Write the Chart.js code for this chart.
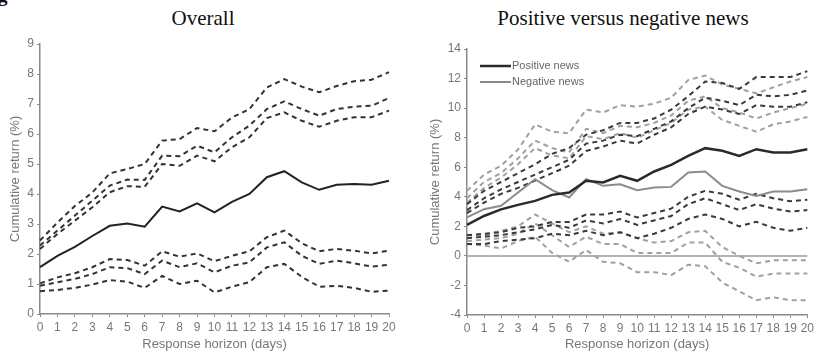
<!DOCTYPE html>
<html>
<head>
<meta charset="utf-8">
<script src="https://cdn.jsdelivr.net/npm/chart.js@4.4.0/dist/chart.umd.min.js"></script>
<style>
  body { margin: 0; background: #fff; width: 817px; height: 352px; position: relative; overflow: hidden; }
  .title { position: absolute; top: 8px; font-family: "Liberation Serif", serif; font-size: 21px; line-height: 21px; color: #111; text-align: center; }
  .box { position: absolute; top: 30px; height: 322px; }
</style>
</head>
<body>
<div class="title" style="left:-2px;top:-15px;text-align:left;font-weight:bold;font-size:19px;">g</div>
<div class="title" style="left:103px;width:200px;">Overall</div>
<div class="title" style="left:473px;width:300px;">Positive versus negative news</div>
<div class="box" style="left:0;width:408px;"><canvas id="overall"></canvas></div>
<div class="box" style="left:408px;width:409px;"><canvas id="posneg"></canvas></div>
<script>
  const days = ['0','1','2','3','4','5','6','7','8','9','10','11','12','13','14','15','16','17','18','19','20'];

  // Overall panel
  const overallMean = [1.56,1.94,2.24,2.6,2.94,3.02,2.91,3.58,3.42,3.69,3.39,3.74,4.0,4.56,4.76,4.39,4.14,4.31,4.33,4.31,4.44];
  const overallUp3 = [2.45,3.05,3.6,4.05,4.69,4.83,5.0,5.78,5.83,6.2,6.09,6.55,6.83,7.55,7.83,7.58,7.39,7.6,7.76,7.81,8.06];
  const overallUp2 = [2.28,2.78,3.28,3.78,4.28,4.48,4.47,5.28,5.26,5.61,5.39,5.89,6.28,6.83,7.09,6.83,6.61,6.83,6.91,6.94,7.2];
  const overallUp1 = [2.17,2.67,3.11,3.56,4.06,4.26,4.24,5.0,4.94,5.28,5.09,5.56,5.89,6.53,6.72,6.44,6.24,6.44,6.56,6.56,6.78];
  const overallLo3 = [1.02,1.22,1.36,1.56,1.83,1.8,1.61,2.09,1.91,2.02,1.76,1.94,2.09,2.56,2.78,2.36,2.09,2.17,2.11,2.02,2.11];
  const overallLo2 = [0.94,1.06,1.17,1.33,1.56,1.53,1.33,1.78,1.56,1.69,1.39,1.61,1.72,2.22,2.39,1.94,1.67,1.78,1.69,1.58,1.64];
  const overallLo1 = [0.76,0.8,0.87,0.98,1.13,1.08,0.87,1.27,1.0,1.11,0.72,0.91,1.06,1.56,1.67,1.24,0.91,0.94,0.87,0.74,0.78];

  // Positive versus negative panel
  const positiveMean = [2.1,2.7,3.15,3.45,3.72,4.13,4.29,5.08,4.97,5.42,5.08,5.71,6.16,6.77,7.29,7.11,6.77,7.22,7.0,7.0,7.22];
  const negativeMean = [2.6,3.16,3.39,4.29,5.19,4.45,3.95,5.19,4.74,4.85,4.45,4.63,4.67,5.64,5.71,4.74,4.36,4.06,4.36,4.36,4.51];
  const posUp3 = [3.5,4.4,5.0,5.6,6.2,6.9,7.3,8.2,8.5,9.0,9.0,9.3,9.9,10.8,11.8,11.7,11.3,12.1,12.1,12.1,12.5];
  const posUp2 = [3.1,3.9,4.5,5.0,5.5,6.0,6.5,7.6,7.8,8.2,8.1,8.6,9.1,10.0,10.7,10.5,10.2,10.9,10.8,10.9,11.2];
  const posUp1 = [2.9,3.6,4.2,4.6,5.1,5.6,6.1,7.1,7.4,7.8,7.6,8.2,8.7,9.6,10.1,9.9,9.6,10.2,10.1,10.1,10.4];
  const posLo3 = [1.4,1.5,1.6,1.9,2.0,2.3,2.3,2.8,2.8,3.0,2.6,2.9,3.2,4.0,4.4,4.2,3.8,4.2,3.9,3.7,3.8];
  const posLo2 = [1.2,1.3,1.4,1.6,1.8,2.1,1.9,2.4,2.2,2.5,2.1,2.4,2.7,3.5,3.9,3.5,3.1,3.5,3.2,3.0,3.1];
  const posLo1 = [0.8,0.8,1.0,1.1,1.2,1.5,1.4,1.7,1.4,1.6,1.2,1.5,1.9,2.5,2.8,2.5,2.0,2.3,1.9,1.7,1.9];
  const negUp3 = [4.4,5.5,6.1,7.2,8.9,8.4,8.3,9.9,9.7,10.2,10.1,10.3,10.7,11.9,12.2,11.6,11.3,11.0,11.4,11.8,12.1];
  const negUp2 = [3.9,5.0,5.6,6.6,7.8,7.3,7.0,8.6,8.3,8.8,8.7,9.0,9.5,10.5,10.8,10.0,9.7,9.3,9.7,10.0,10.3];
  const negUp1 = [3.6,4.6,5.3,6.2,7.3,6.8,6.6,8.1,7.9,8.3,8.0,8.5,9.0,9.9,10.1,9.2,8.8,8.4,8.9,9.1,9.4];
  const negLo3 = [1.4,1.4,1.7,2.0,2.8,2.2,1.6,2.0,1.5,1.6,1.2,0.9,1.0,1.6,1.7,0.6,0.0,-0.5,-0.3,-0.3,-0.3];
  const negLo2 = [1.0,1.1,1.2,1.5,2.2,1.4,0.6,1.3,0.8,0.8,0.2,0.2,0.2,0.9,0.9,-0.4,-0.8,-1.4,-1.2,-1.2,-1.2];
  const negLo1 = [0.8,0.7,0.5,1.0,1.3,0.2,-0.4,0.4,-0.4,-0.5,-1.1,-1.1,-1.3,-0.6,-0.7,-1.8,-2.4,-3.0,-2.8,-3.0,-3.0];

  const overallTicks = { min: 0, max: 9, step: 1 };
  const posnegTicks = { min: -4, max: 14, step: 2 };

  const tickFont = { family: 'Liberation Sans', size: 12 };
  const axisFont = { family: 'Liberation Sans', size: 13 };
  const axisGrey = '#8a8a8a';
  const labelGrey = '#777';

  function solid(label, data, color, width) {
    return { label, data, borderColor: color, borderWidth: width, pointRadius: 0, tension: 0, fill: false };
  }
  function dashed(data, color) {
    return { label: '', data, borderColor: color, borderWidth: 2, borderDash: [5, 4], pointRadius: 0, tension: 0, fill: false };
  }

  function makeScales(range, yWidth, xHeight) {
    return {
      x: {
        border: { color: axisGrey, width: 1.5 },
        grid: { drawOnChartArea: false, color: axisGrey, tickLength: 3 },
        ticks: { color: labelGrey, font: tickFont, autoSkip: false, maxRotation: 0, padding: 3 },
        title: { display: true, text: 'Response horizon (days)', color: labelGrey, font: axisFont, padding: { top: 0, bottom: 0 } },
        afterFit: s => { s.height = xHeight; }
      },
      y: {
        min: range.min, max: range.max,
        border: { color: axisGrey, width: 1.5 },
        grid: { drawOnChartArea: false, color: axisGrey, tickLength: 3 },
        ticks: { stepSize: range.step, color: labelGrey, font: tickFont, padding: 3 },
        title: { display: true, text: 'Cumulative return (%)', color: labelGrey, font: axisFont, padding: { top: 0, bottom: 2 } },
        afterFit: s => { s.width = yWidth; }
      }
    };
  }

  // zero line and in-plot legend for the right panel
  const zeroLine = {
    id: 'zeroLine',
    beforeDatasetsDraw(chart) {
      const y = chart.scales.y.getPixelForValue(0);
      const { left, right } = chart.chartArea;
      const ctx = chart.ctx;
      ctx.save();
      ctx.strokeStyle = '#9a9a9a';
      ctx.lineWidth = 1.5;
      ctx.beginPath();
      ctx.moveTo(left, y);
      ctx.lineTo(right, y);
      ctx.stroke();
      ctx.restore();
    }
  };
  const insideLegend = {
    id: 'insideLegend',
    afterDraw(chart) {
      const ctx = chart.ctx;
      const x0 = chart.chartArea.left + 13;
      const items = [chart.data.datasets[0], chart.data.datasets[1]];
      ctx.save();
      ctx.font = '11px "Liberation Sans"';
      ctx.textBaseline = 'middle';
      items.forEach((ds, i) => {
        const y = chart.chartArea.top + 17 + i * 16;
        ctx.strokeStyle = ds.borderColor;
        ctx.lineWidth = ds.borderWidth;
        ctx.beginPath();
        ctx.moveTo(x0, y);
        ctx.lineTo(x0 + 31, y);
        ctx.stroke();
        ctx.fillStyle = '#666';
        ctx.fillText(ds.label, x0 + 32, y);
      });
      ctx.restore();
    }
  };

  new Chart(document.getElementById('overall'), {
    type: 'line',
    data: {
      labels: days,
      datasets: [
        solid('Overall', overallMean, '#222', 2),
        dashed(overallUp3, '#333'),
        dashed(overallUp2, '#333'),
        dashed(overallUp1, '#333'),
        dashed(overallLo3, '#333'),
        dashed(overallLo2, '#333'),
        dashed(overallLo1, '#333')
      ]
    },
    options: {
      responsive: true,
      maintainAspectRatio: false,
      animation: false,
      layout: { padding: { top: 14, right: 19, left: 8, bottom: 0 } },
      plugins: { legend: { display: false }, tooltip: { enabled: false } },
      scales: makeScales(overallTicks, 32, 38)
    }
  });

  new Chart(document.getElementById('posneg'), {
    type: 'line',
    data: {
      labels: days,
      datasets: [
        solid('Positive news', positiveMean, '#2a2a2a', 2.5),
        solid('Negative news', negativeMean, '#8c8c8c', 2),
        dashed(posUp3, '#3a3a3a'),
        dashed(posUp2, '#3a3a3a'),
        dashed(posUp1, '#3a3a3a'),
        dashed(posLo3, '#3a3a3a'),
        dashed(posLo2, '#3a3a3a'),
        dashed(posLo1, '#3a3a3a'),
        dashed(negUp3, '#a0a0a0'),
        dashed(negUp2, '#a0a0a0'),
        dashed(negUp1, '#a0a0a0'),
        dashed(negLo3, '#a0a0a0'),
        dashed(negLo2, '#a0a0a0'),
        dashed(negLo1, '#a0a0a0')
      ]
    },
    options: {
      responsive: true,
      maintainAspectRatio: false,
      animation: false,
      layout: { padding: { top: 19, right: 9, left: 20, bottom: 0 } },
      plugins: { legend: { display: false }, tooltip: { enabled: false } },
      scales: makeScales(posnegTicks, 39, 37)
    },
    plugins: [zeroLine, insideLegend]
  });
</script>
</body>
</html>
